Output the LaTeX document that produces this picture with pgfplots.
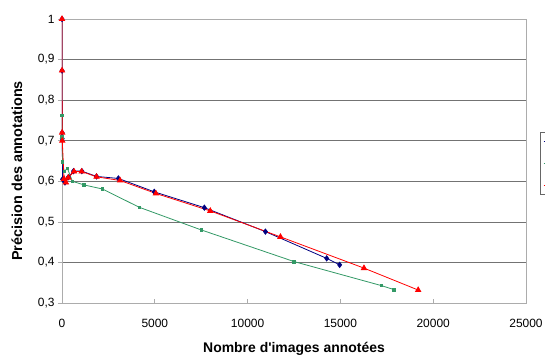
\documentclass[border=0pt]{standalone}
\usepackage{pgfplots}
\pgfplotsset{compat=1.18}
\usepackage{fontspec}
\setmainfont{Liberation Sans}
\definecolor{navy}{HTML}{000080}
\definecolor{sgreen}{HTML}{339966}
\begin{document}
\begin{tikzpicture}[x=1bp,y=1bp]
\begin{axis}[
  at={(0,0)}, anchor=south west,
  scale only axis, width=464bp, height=284bp,
  xmin=0, xmax=25000, ymin=0.3, ymax=1,
  xtick={0,5000,10000,15000,20000,25000},
  ytick={0.3,0.4,0.5,0.6,0.7,0.8,0.9,1},
  scaled x ticks=false,
  xticklabel style={/pgf/number format/1000 sep={}, yshift=-13bp},
  yticklabel style={/pgf/number format/use comma,/pgf/number format/fixed, xshift=-4bp},
  /pgf/number format/assume math mode=true,
  tick label style={font=\fontsize{12}{14}\selectfont},
  ymajorgrids, grid style={black!55, line width=0.7bp},
  axis line style={gray!65, line width=0.7bp},
  tick style={gray!65, line width=0.7bp}, major tick length=4bp, tick align=inside,
  every major y tick/.append style={xshift=-4bp},
  xtick pos=bottom, ytick pos=left,
  xlabel={Nombre d\textquotesingle images annotées},
  ylabel={Précision des annotations},
  xlabel style={font=\fontsize{14}{16}\selectfont\bfseries, at={(axis description cs:0.5,-0.162)}, anchor=center},
  ylabel style={font=\fontsize{14.5}{16}\selectfont\bfseries, at={(axis description cs:-0.097,0.465)}, anchor=center},
  legend style={at={(axis description cs:1.030,0.602)}, anchor=north west,
    draw=black!60, font=\fontsize{8}{9}\selectfont, row sep=11bp, inner sep=3bp},
  legend cell align=left,
]
\addplot[navy, line width=0.8bp, mark=diamond*, mark size=2.6bp, mark options={solid, fill=navy}] coordinates {
(1,1.0) (3,0.873) (8,0.72) (15,0.705) (30,0.605) (160,0.597) (340,0.61) (620,0.625) (1070,0.625) (1860,0.612) (3040,0.607) (4970,0.574) (7670,0.535) (10960,0.476) (14260,0.41) (14960,0.394)
};
\addlegendentry{\phantom{Série1}}
\addplot[sgreen, line width=0.8bp, mark=square*, mark size=1.3bp, mark options={solid, fill=sgreen}] coordinates {
(1,0.762) (10,0.71) (30,0.648) (120,0.624) (290,0.632) (560,0.600) (1190,0.591) (2180,0.581) (4160,0.536) (7510,0.480) (12510,0.402) (17200,0.343) (17890,0.333)
};
\addlegendentry{\phantom{Série2}}
\addplot[red, line width=0.8bp, mark=triangle*, mark size=3bp, mark options={solid, fill=red}] coordinates {
(1,1.0) (3,0.873) (8,0.72) (15,0.70) (110,0.606) (210,0.597) (340,0.609) (650,0.624) (1060,0.624) (1860,0.611) (3130,0.602) (5060,0.570) (7990,0.527) (11770,0.463) (16270,0.386) (19190,0.332)
};
\addlegendentry{\phantom{Série3}}
\end{axis}
\pgfresetboundingbox
\path[use as bounding box] (-62,-53) rectangle (483,303);
\end{tikzpicture}
\end{document}
